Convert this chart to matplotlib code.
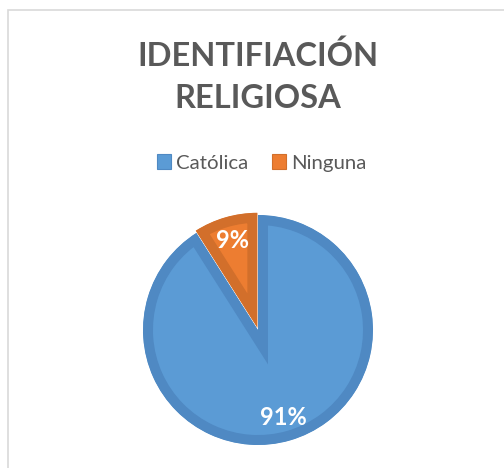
import matplotlib.pyplot as plt
from matplotlib.patches import Patch, Rectangle

categories = ['Católica', 'Ninguna']
values = [91, 9]
title_lines = ['IDENTIFIACIÓN', 'RELIGIOSA']

light = ['#5B9BD5', '#ED7D31']
dark = ['#4F89C3', '#D26F2B']

plt.rcParams['font.family'] = ['Lato', 'DejaVu Sans']

W, H = 504, 468
fig = plt.figure(figsize=(W / 100, H / 100), dpi=100)

# chart frame (light grey, cut off at right and bottom)
fig.patches.append(Rectangle((7.5 / W, -0.1), 1.2, 1 - 9.5 / H + 0.1, transform=fig.transFigure,
                             fill=False, edgecolor='#D9D9D9', linewidth=1.2))

fig.text(258 / W, 1 - 56 / H, title_lines[0], ha='center', va='center', fontsize=23.5,
         fontweight='bold', color='#595959')
fig.text(258 / W, 1 - 98 / H, title_lines[1], ha='center', va='center', fontsize=23.5,
         fontweight='bold', color='#595959')

# pie axes: centre (258, 330) px, radius 115 px, limits +-1.1
r = 115
cx, cy = 258, 330
half = r * 1.1
ax = fig.add_axes([(cx - half) / W, (H - cy - half) / H, 2 * half / W, 2 * half / H])

wedges, texts, autotexts = ax.pie(values, colors=light, startangle=90, counterclock=False,
                                  explode=[0, 0.02], autopct='%1.0f%%', pctdistance=0.79,
                                  textprops=dict(color='white', fontsize=17, fontweight='bold'))
for w, c in zip(wedges, dark):
    # inner stroke: double width line clipped to the wedge itself
    w.set_edgecolor(c)
    w.set_linewidth(14.4)
    w.set_clip_on(True)
    w.set_clip_path(w)
ax.set_xlim(-1.1, 1.1)
ax.set_ylim(-1.1, 1.1)
ax.set_aspect('equal')

handles = [Patch(facecolor=l, edgecolor=d, linewidth=0.8) for l, d in zip(light, dark)]
fig.legend(handles, categories, loc='center', bbox_to_anchor=(262 / W, 1 - 163 / H), ncol=2,
           frameon=False, fontsize=14.7, labelcolor='#595959', handlelength=0.7, handleheight=0.7,
           handletextpad=0.25, columnspacing=1.15)

fig.savefig('out.png', dpi=100)
